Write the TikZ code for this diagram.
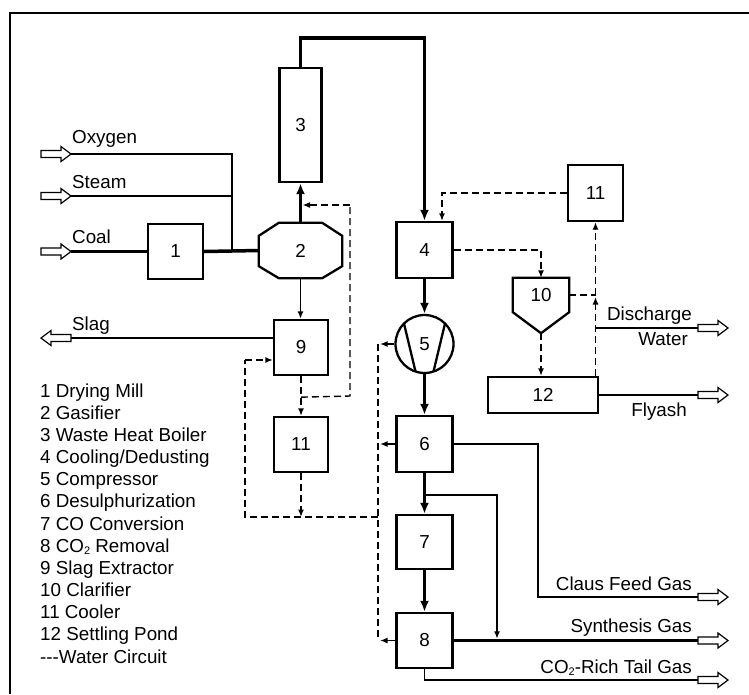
\documentclass[tikz,border=0pt]{standalone}
\usepackage{fontspec}
\setmainfont{Liberation Sans}
\usetikzlibrary{arrows.meta,calc}
\newcommand\subtwo{\raisebox{-2.5pt}{\fontsize{11}{11}\selectfont 2}}
\begin{document}
\begin{tikzpicture}[x=1pt,y=-1pt,
  lbl/.style={font=\fontsize{18.8}{22}\selectfont, inner sep=0pt},
  unit/.style={lbl, draw, line width=2.3pt},
  hidden/.style={lbl},
  thin/.style={line width=1.5pt},
  thickline/.style={line width=3.5pt},
  water/.style={line width=1.4pt, dash pattern=on 7pt off 4pt},
  tipT/.style={-{Latex[length=11pt,width=9pt]}},
  tipt/.style={-{Latex[length=7.5pt,width=6pt]}},
  harrow/.pic={\draw[line width=1.2pt,fill=white] (0,-3.5) -- (20,-3.5) -- (20,-7.5) -- (30,0) -- (20,7.5) -- (20,3.5) -- (0,3.5) -- cycle;}
]
\useasboundingbox (0,0) rectangle (749,694);
% frame
\draw[line width=1.5pt] (749,13) -- (10,13) -- (10,694);

% units
\node[unit,minimum width=55pt,minimum height=55pt] (n1) at (175.5,251.5) {1};
\node[hidden,minimum width=83pt,minimum height=55pt] (n2) at (300.5,250.5) {2};
\draw[line width=2.3pt] ($(n2.north west)+(20,0)$) -- ($(n2.north east)+(-20,0)$) -- ($(n2.north east)+(0,13)$) -- ($(n2.south east)+(0,-12)$) -- ($(n2.south east)+(-20,0)$) -- ($(n2.south west)+(20,0)$) -- ($(n2.south west)+(0,-12)$) -- ($(n2.north west)+(0,13)$) -- cycle;
\node[unit,minimum width=42pt,minimum height=114pt] (n3) at (300.5,125) {3};
\node[unit,minimum width=56pt,minimum height=56pt] (n4) at (424.5,250) {4};
\node[unit,circle,minimum size=58pt] (n5) at (424.5,344) {5};
\draw[line width=2.3pt] ($(n5.center)+(-20.5,-20.5)$) -- ($(n5.center)+(-9,27.5)$);
\draw[line width=2.3pt] ($(n5.center)+(20.5,-20.5)$) -- ($(n5.center)+(9,27.5)$);
\node[unit,minimum width=56pt,minimum height=56pt] (n6) at (424.5,444) {6};
\node[unit,minimum width=56pt,minimum height=54pt] (n7) at (424.5,542) {7};
\node[unit,minimum width=56pt,minimum height=55pt] (n8) at (424.5,640.5) {8};
\node[unit,minimum width=54pt,minimum height=55pt] (n9) at (301,347.5) {9};
\node[unit,minimum width=54pt,minimum height=55pt] (n11a) at (301,444.5) {11};
\node[unit,minimum width=55pt,minimum height=56pt] (n11b) at (595.5,193) {11};
\node[hidden,minimum width=56pt,minimum height=34pt] (n10) at (541,295) {10};
\coordinate (n10tip) at ($(n10.south)+(0,21)$);
\draw[line width=2.3pt] (n10.north west) -- (n10.north east) -- (n10.south east) -- (n10tip) -- (n10.south west) -- cycle;
\node[unit,minimum width=110pt,minimum height=36pt] (n12) at (543,395) {12};

% feed streams
\coordinate (oxA) at (41,154);   \coordinate (oxB) at (71,154);
\coordinate (stA) at (41,196);   \coordinate (stB) at (71,196);
\coordinate (coalA) at (41,251.5); \coordinate (coalB) at (71,251.5);
\coordinate (jn) at (232,251.5);
\pic at (oxA) {harrow};
\pic at (stA) {harrow};
\pic at (coalA) {harrow};
\draw[thin] (oxB) -| (jn);
\draw[thin] (stB) -- (stB -| jn);
\draw[thickline] (coalB) -- (n1.west);
\draw[thickline] (n1.east) -- (n2.west);
\node[lbl,anchor=base west] (tox) at (72,143) {Oxygen};
\node[lbl,anchor=base west] (tst) at (72,188) {Steam};
\node[lbl,anchor=base west] (tco) at (72,243) {Coal};

% gas path
\draw[thickline,tipT] (n2.north) -- (n3.south);
\draw[thickline,tipT] (n3.north) -- ++(0,-29) -| (n4.north);
\draw[thickline,tipT] (n4.south) -- (n5.north);
\draw[thickline,tipT] (n5.south) -- (n6.north);
\draw[thickline,tipT] (n6.south) -- (n7.north);
\draw[thickline,tipT] (n7.south) -- (n8.north);

% slag
\draw[thin,tipt] (n2.south) -- (n2.south |- n9.north);
\coordinate (slagB) at (71,338);
\draw[thin] (n9.west |- slagB) -- (slagB);
\pic[rotate=180] at (slagB) {harrow};
\node[lbl,anchor=base west] (tsl) at (72,330) {Slag};

% products
\coordinate (br) at (424.5,495);
\coordinate (synB) at (698,640.5);
\coordinate (brE) at (497,640.5);
\draw[thickline] (n8.east) -- (synB);
\draw[thin,tipt,shorten >=1.7pt] (br) -| (brE);
\pic at (synB) {harrow};
\node[lbl,anchor=base east] (tsy) at (692,632) {Synthesis Gas};

\coordinate (clausK) at (538,597);
\coordinate (clausB) at (698,597);
\draw[thin] (n6.east) -| (clausK) -- (clausB);
\pic at (clausB) {harrow};
\node[lbl,anchor=base east] (tcl) at (692,590) {Claus Feed Gas};

\coordinate (tailB) at (698,680);
\draw[thin] (n8.south) |- (tailB);
\pic at (tailB) {harrow};
\node[lbl,anchor=base east] (tta) at (692,673) {CO\subtwo-Rich Tail Gas};

\coordinate (flyB) at (698,395);
\draw[thin] (n12.east) -- (flyB);
\pic at (flyB) {harrow};
\node[lbl,anchor=base east] (tfl) at (687,416) {Flyash};

\coordinate (disK) at (595.5,328);
\coordinate (disB) at (698,328);
\draw[thin] (disK) -- (disB);
\pic at (disB) {harrow};
\node[lbl,anchor=base east] (tdi1) at (692,320) {Discharge};
\node[lbl,anchor=base east] (tdi2) at (688,345) {Water};

% water circuit right
\draw[water,tipt] (n11b.west) -| ($(n4.north)+(17.5,0)$);
\draw[water,tipt] (n4.east) -| (n10.north);
\coordinate (j10) at (n10.east -| n11b.south);
\coordinate (v12) at (n12.north -| n11b.south);
\draw[water] (n10.east) -- (j10);
\draw[water,tipt] (v12) -- ($(j10)+(0,2)$);
\draw[water,tipt] (j10) -- (n11b.south);
\draw[water,tipt] (n10tip) -- (n10tip |- n12.north);

% water circuit left
\coordinate (w1) at ($(n9.south)+(0,21)$);
\coordinate (wA) at (350,396);
\coordinate (wB) at (350,205);
\coordinate (wC) at (302.5,205);
\draw[water,tipt] (n9.south) -- (n11a.north);
\draw[water] (w1) -- (wA) -- (wB);
\draw[water,tipt] (wB) -- (wC);
\coordinate (wD) at (301,517);
\draw[water,tipt] (n11a.south) -- (wD);
\coordinate (cTop) at (378,344);
\coordinate (cBot) at (378,640.5);
\coordinate (cJ) at (378,517);
\coordinate (cL) at (245,517);
\coordinate (cU) at (245,360);
\draw[water] (cTop) -- (cBot);
\draw[water] (cJ) -- (cL) -- (cU);
\draw[water,tipt] (cU) -- (cU -| n9.west);
\draw[thin,tipt] (n5.west) -- ($(cTop)+(2,0)$);
\draw[thin,tipt] (n6.west) -- (n6.west -| 380,0);
\draw[thin,tipt] (n8.west) -- ($(cBot)+(2,0)$);

% legend
\foreach [count=\i] \t in {1 Drying Mill, 2 Gasifier, 3 Waste Heat Boiler, 4 Cooling/Dedusting, 5 Compressor, 6 Desulphurization, 7 CO Conversion, {8 CO\subtwo\ Removal}, 9 Slag Extractor, 10 Clarifier, 11 Cooler, 12 Settling Pond, {-{}-{}-Water Circuit}}
  \node[lbl,anchor=base west] (leg\i) at (40,{397+22.17*(\i-1)}) {\t};
\end{tikzpicture}
\end{document}
